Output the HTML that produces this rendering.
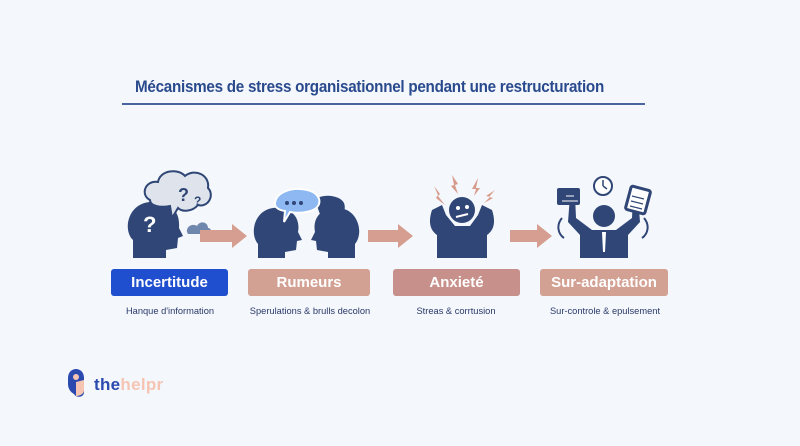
<!DOCTYPE html>
<html><head><meta charset="utf-8"><style>
html,body{margin:0;padding:0}
body{width:800px;height:446px;background:#f4f7fb;position:relative;overflow:hidden;font-family:"Liberation Sans",sans-serif}
.t{position:absolute;left:135px;top:77px;font-size:17px;font-weight:bold;color:#2a4a8e;letter-spacing:-0.3px;transform:scaleX(0.895);transform-origin:left}
.ul{position:absolute;left:122px;top:103px;width:523px;height:1.5px;background:#4a64a0}
.b{position:absolute;top:269px;height:27px;border-radius:3px;color:#fff;font-weight:bold;font-size:15px;text-align:center;line-height:27px}
.s{position:absolute;top:306px;font-size:9.3px;color:#2a3a6a;text-align:center}
</style></head><body>
<div class="t">Mécanismes de stress organisationnel pendant une restructuration</div>
<div class="ul"></div>
<svg width="800" height="446" style="position:absolute;left:0;top:0">
<g fill="#2f4676">
<path d="M133 258 L133 240 C122 230 128 200 155 202 C175 203 180 215 179 228 L183 236 L178 238 L177 248 L166 250 L166 258 Z"/>
<path d="M258 258 L258 244 C248 232 256 205 280 208 C296 210 300 222 298 232 L302 240 L297 241 L296 250 L285 252 L285 258 Z"/>
<path d="M355 258 L355 244 C365 232 357 205 333 208 C317 210 313 222 315 232 L311 240 L316 241 L317 250 L328 252 L328 258 Z"/>
<path d="M437 258 L437 235 C430 230 428 222 432 210 L442 205 L446 215 L455 226 L470 226 L478 215 L482 205 L492 210 C496 222 494 230 487 235 L487 258 Z"/>
<circle cx="462" cy="210" r="13"/>
<circle cx="604" cy="216" r="11"/>
<path d="M580 258 L580 235 L568 222 L570 196 L575 196 L576 218 L592 230 L616 230 L632 218 L633 196 L638 196 L640 222 L628 235 L628 258 Z"/>
<rect x="557" y="188" width="23" height="17" rx="2"/>
</g>
<path d="M150 200 C140 195 145 180 158 182 C160 170 178 168 185 176 C195 168 210 175 208 188 C215 195 208 208 198 205 C192 212 182 212 178 208 L172 218 L170 206 C160 208 150 206 150 200 Z" fill="#dfe4ec" stroke="#2f4676" stroke-width="2"/>
<text x="178" y="201" font-size="18" font-weight="bold" fill="#2f4676" font-family="Liberation Sans">?</text>
<text x="194" y="205" font-size="12" font-weight="bold" fill="#2f4676" font-family="Liberation Sans">?</text>
<text x="143" y="232" font-size="22" font-weight="bold" fill="#fff" font-family="Liberation Sans">?</text>
<path d="M187 232 C186 226 193 223 197 226 C200 220 208 222 208 228 C212 228 212 234 208 234 L188 234 Z" fill="#6f86ad"/>
<path d="M315 200 C322 193 340 195 344 203 C348 214 336 224 322 220 Z" fill="#2f4676"/>
<path d="M275 204 C275 193 290 188 300 189 C318 190 322 200 318 206 C314 212 300 214 290 212 L284 222 L285 211 C278 210 275 207 275 204 Z" fill="#8db8f2" stroke="#fff" stroke-width="2"/>
<circle cx="287" cy="203" r="2" fill="#2f4676"/><circle cx="294" cy="203" r="2" fill="#2f4676"/><circle cx="301" cy="203" r="2" fill="#2f4676"/>
<circle cx="458" cy="208" r="2" fill="#fff"/><circle cx="467" cy="207" r="2" fill="#fff"/>
<path d="M456 217 L468 214" stroke="#fff" stroke-width="2"/>
<g fill="#d79b8c">
<path d="M434 186 L440 194 L438 196 L445 205 L436 198 L438 195 Z"/>
<path d="M452 175 L458 184 L455 185 L458 194 L451 186 L454 185 Z"/>
<path d="M478 178 L476 188 L480 188 L474 196 L476 189 L472 189 Z"/>
<path d="M495 190 L486 196 L490 197 L484 203 L493 198 L489 197 Z"/>
</g>
<circle cx="603" cy="186" r="9" fill="#fff" stroke="#2f4676" stroke-width="2"/>
<path d="M603 186 L603 180 M603 186 L607 189" stroke="#2f4676" stroke-width="1.5"/>
<rect x="628" y="188" width="20" height="24" rx="2" fill="#fff" stroke="#2f4676" stroke-width="3" transform="rotate(15 638 200)"/>
<path d="M632 196 L644 199 M631 201 L643 204 M630 206 L642 209" stroke="#2f4676" stroke-width="1.2"/>
<path d="M566 196 L574 196 M562 201 L578 201" stroke="#fff" stroke-width="1"/>
<path d="M562 218 C556 225 558 234 564 238 M644 218 C650 225 648 234 642 238" fill="none" stroke="#2f4676" stroke-width="2"/>
<path d="M602 232 L606 232 L605 252 L603 252 Z" fill="#fff"/>
<g fill="#d69e90">
<path d="M200 230 L232 230 L232 224 L247 236 L232 248 L232 242 L200 242 Z"/>
<path d="M368 230 L398 230 L398 224 L413 236 L398 248 L398 242 L368 242 Z"/>
<path d="M510 230 L537 230 L537 224 L552 236 L537 248 L537 242 L510 242 Z"/>
</g>
<path d="M68 378 C68 366 84 366 84 378 L84 392 C84 398 76 398 74 394 C70 392 68 388 68 384 Z" fill="#2a4ab0"/>
<path d="M76 382 L76 396 C80 396 84 394 84 390 L84 380 Z" fill="#f6c4b3"/>
<circle cx="76" cy="377" r="3" fill="#f6c4b3"/>
</svg>
<div class="b" style="left:111px;width:117px;background:#1f4fcf">Incertitude</div>
<div class="b" style="left:248px;width:122px;background:#d3a194">Rumeurs</div>
<div class="b" style="left:393px;width:127px;background:#c8908a">Anxieté</div>
<div class="b" style="left:540px;width:128px;background:#d3a194">Sur-adaptation</div>
<div class="s" style="left:100px;width:140px">Hanque d'information</div>
<div class="s" style="left:235px;width:150px">Sperulations &amp; brulls decolon</div>
<div class="s" style="left:386px;width:140px">Streas &amp; corrtusion</div>
<div class="s" style="left:530px;width:150px">Sur-controle &amp; epulsement</div>
<div style="position:absolute;left:94px;top:375px;font-size:17px;font-weight:bold;letter-spacing:0.3px"><span style="color:#2a4ab0">the</span><span style="color:#f6c4b3">helpr</span></div>
</body></html>
